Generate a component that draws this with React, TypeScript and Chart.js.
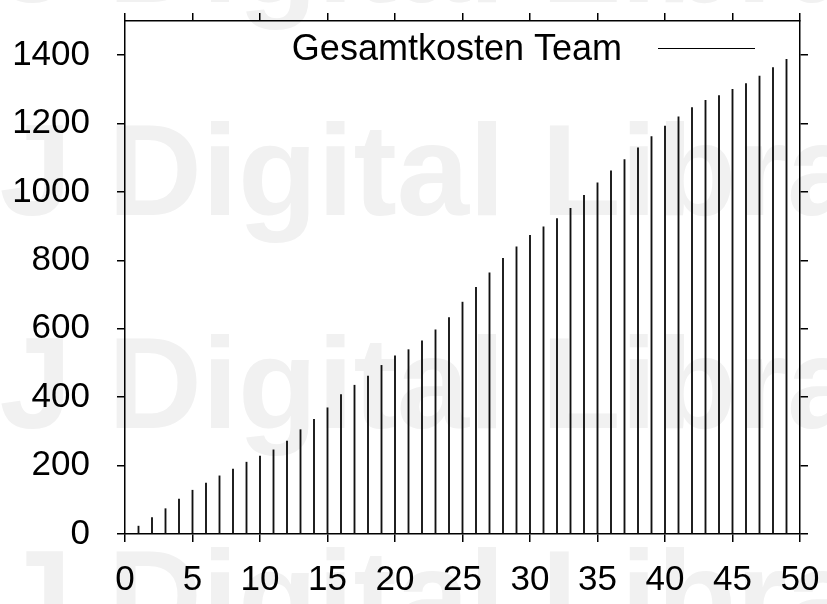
import React, { useEffect, useRef } from "react";
import { Chart, registerables } from "chart.js";

Chart.register(...registerables);

const seriesLabel = "Gesamtkosten Team";
const days = Array.from({ length: 49 }, (_, i) => i + 1);
const costs = [
  23, 48, 74, 102, 128, 149, 170, 190, 210, 228,
  246, 272, 305, 335, 369, 408, 435, 462, 493, 521,
  539, 565, 597, 633, 678, 721, 764, 806, 840, 873,
  898, 922, 952, 990, 1027, 1062, 1095, 1129, 1162, 1193,
  1220, 1247, 1268, 1282, 1300, 1317, 1339, 1364, 1388,
];
const xMin = 0;
const xMax = 50;
const xStep = 5;
const yMin = 0;
const yMax = 1500;
const yStep = 200;
const watermark = "UJ Digital Library";

const FONT = "'Liberation Sans', Arial, sans-serif";

const watermarkPlugin = {
  id: "watermark",
  beforeDraw(chart: any) {
    const ctx = chart.ctx;
    ctx.save();
    ctx.fillStyle = "#ffffff";
    ctx.fillRect(0, 0, chart.width, chart.height);
    ctx.font = `bold 130px ${FONT}`;
    ctx.fillStyle = "#f1f1f1";
    ctx.textAlign = "left";
    ctx.textBaseline = "alphabetic";
    const pre = ctx.measureText("UJ ").width;
    const startX = 108 - pre;
    [2, 215, 428, 641].forEach((b) => ctx.fillText(watermark, startX, b));
    ctx.restore();
  },
};

const legendPlugin = {
  id: "gpLegend",
  afterDatasetsDraw(chart: any) {
    const { ctx, chartArea } = chart;
    ctx.save();
    const lineEnd = chartArea.right - 45;
    const lineStart = lineEnd - 97;
    const y = chartArea.top + 27;
    ctx.strokeStyle = "#000";
    ctx.lineWidth = 1;
    ctx.beginPath();
    ctx.moveTo(lineStart, y + 0.5);
    ctx.lineTo(lineEnd, y + 0.5);
    ctx.stroke();
    ctx.font = `36px ${FONT}`;
    ctx.fillStyle = "#000";
    ctx.textAlign = "right";
    ctx.textBaseline = "alphabetic";
    ctx.fillText(chart.data.datasets[0].label, lineStart - 36, y + 12);
    ctx.restore();
  },
};

function fixBox(prop: "width" | "height", size: number) {
  return (s: any) => {
    s[prop] = size;
    s.paddingTop = 0;
    s.paddingBottom = 0;
    s.paddingLeft = 0;
    s.paddingRight = 0;
  };
}

export default function App() {
  const ref = useRef<HTMLCanvasElement | null>(null);

  useEffect(() => {
    if (!ref.current) return;
    const tickFont = { family: FONT, size: 35, lineHeight: 1 };
    const grid = {
      drawOnChartArea: false,
      drawTicks: true,
      tickLength: 8,
      color: "#000",
      lineWidth: 1.5,
      offset: false,
    };
    const border = { display: true, color: "#000", width: 1.5 };
    const plain = (v: any) => String(v);
    const chart = new Chart(ref.current, {
      type: "bar",
      data: {
        datasets: [
          {
            label: seriesLabel,
            data: days.map((d, i) => ({ x: d, y: costs[i] })),
            backgroundColor: "#111",
            borderWidth: 0,
            barThickness: 1.2,
            xAxisID: "x",
            yAxisID: "y",
          },
        ],
      },
      options: {
        responsive: false,
        animation: false,
        events: [],
        layout: { padding: 0 },
        plugins: { legend: { display: false }, tooltip: { enabled: false } },
        scales: {
          x: {
            type: "linear",
            position: "bottom",
            min: xMin,
            max: xMax,
            offset: false,
            grid,
            border,
            ticks: { stepSize: xStep, color: "#000", font: tickFont, padding: 21, maxRotation: 0, autoSkip: false, callback: plain },
            afterFit: fixBox("height", 70),
          },
          x2: {
            type: "linear",
            position: "top",
            min: xMin,
            max: xMax,
            offset: false,
            grid,
            border,
            ticks: { stepSize: xStep, display: false },
            afterFit: fixBox("height", 21),
          },
          y: {
            type: "linear",
            position: "left",
            min: yMin,
            max: yMax,
            grid,
            border,
            ticks: { stepSize: yStep, includeBounds: false, color: "#000", font: tickFont, padding: 27, callback: plain },
            afterFit: fixBox("width", 125),
          },
          y2: {
            type: "linear",
            position: "right",
            min: yMin,
            max: yMax,
            grid,
            border,
            ticks: { stepSize: yStep, includeBounds: false, display: false },
            afterFit: fixBox("width", 27),
          },
        },
      } as any,
      plugins: [watermarkPlugin, legendPlugin],
    });
    return () => chart.destroy();
  }, []);

  return (
    <div style={{ position: "absolute", left: 0, top: 0, width: 827, height: 604, background: "#fff" }}>
      <canvas ref={ref} width={827} height={604} style={{ display: "block", width: 827, height: 604 }} />
    </div>
  );
}
